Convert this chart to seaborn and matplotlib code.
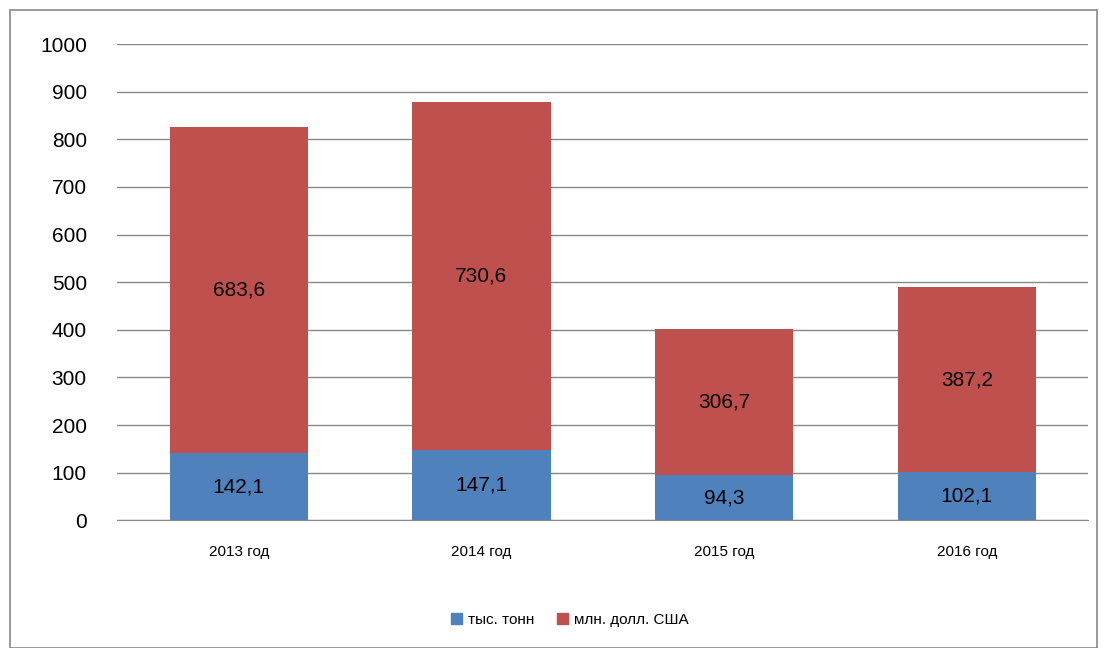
import matplotlib.pyplot as plt
import seaborn as sns
import matplotlib.patches as mpatches

years = ["2013 год", "2014 год", "2015 год", "2016 год"]
tonnes = [142.1, 147.1, 94.3, 102.1]
dollars = [683.6, 730.6, 306.7, 387.2]
series_names = ["тыс. тонн", "млн. долл. США"]
blue = "#4F81BD"
red = "#C0504D"

sns.set_style("white")
plt.rcParams['font.family'] = ['Liberation Sans', 'DejaVu Sans']
plt.rcParams['text.color'] = 'black'
plt.rcParams['xtick.color'] = 'black'
plt.rcParams['ytick.color'] = 'black'

fig = plt.figure(figsize=(11.07, 6.48), dpi=100)
ax = fig.add_axes([0.106, 0.197, 0.877, 0.735])

sns.barplot(x=years, y=tonnes, color=blue, width=0.57, saturation=1, ax=ax,
            linewidth=0, zorder=3)
sns.barplot(x=years, y=dollars, color=red, width=0.57, saturation=1, ax=ax,
            bottom=tonnes, linewidth=0, zorder=3)

fmt = lambda v: f"{v:.1f}".replace(".", ",")
ax.bar_label(ax.containers[0], labels=[fmt(v) for v in tonnes], label_type='center',
             fontsize=15, color='black')
ax.bar_label(ax.containers[1], labels=[fmt(v) for v in dollars], label_type='center',
             fontsize=15, color='black')

ax.set_ylim(0, 1000)
ax.set_yticks(range(0, 1001, 100))
ax.yaxis.grid(True, color="#888888", linewidth=1, zorder=0)
ax.set_axisbelow(True)
for s in ["top", "right", "left"]:
    ax.spines[s].set_visible(False)
ax.spines["bottom"].set_color("#888888")
ax.tick_params(axis='y', labelsize=15, length=0, pad=22)
ax.tick_params(axis='x', labelsize=11, length=0, pad=18)
ax.set_xlim(-0.5, 3.5)

handles = [mpatches.Patch(color=blue, label=series_names[0]),
           mpatches.Patch(color=red, label=series_names[1])]
fig.legend(handles=handles, loc='center', bbox_to_anchor=(0.515, 0.043), ncol=2,
           frameon=False, fontsize=11, handlelength=0.7, handleheight=0.7,
           columnspacing=1.5, handletextpad=0.4)

fig.add_artist(mpatches.Rectangle((0.009, 0.0), 0.982, 0.985, transform=fig.transFigure,
                                  fill=False, edgecolor="#888888", linewidth=1.2))

fig.savefig("out.png", dpi=100)
